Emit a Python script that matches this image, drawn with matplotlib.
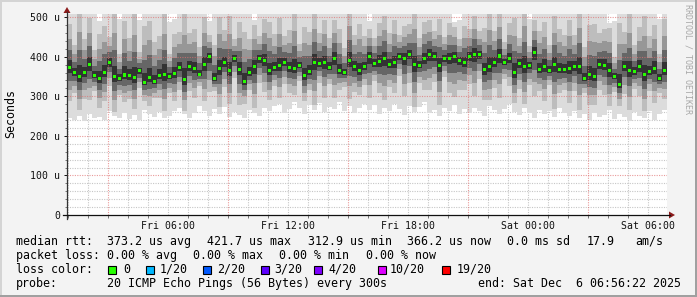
import numpy as np
import matplotlib
matplotlib.use("Agg")
from matplotlib import pyplot as plt
from matplotlib.patches import Rectangle, Polygon

# smokeping rtt, 15 minute buckets from Fri 00:56:22 to Sat 06:56:22 (values in us)
median_rtt = [372, 360, 350, 360, 380, 352, 345, 360, 385, 350, 345, 354, 352, 348, 365, 335, 348, 338, 352, 355,
              350, 358, 372, 343, 375, 370, 356, 380, 400, 345, 370, 385, 365, 395, 368, 338, 360, 375, 395, 390,
              365, 372, 378, 385, 372, 370, 378, 352, 362, 385, 383, 385, 373, 395, 365, 360, 390, 375, 365, 375,
              400, 382, 388, 395, 380, 385, 400, 395, 405, 380, 378, 395, 405, 400, 378, 395, 395, 400, 390, 385,
              400, 405, 405, 368, 375, 385, 402, 385, 395, 360, 382, 375, 378, 410, 368, 375, 365, 380, 368, 368,
              370, 375, 375, 345, 355, 350, 380, 378, 365, 350, 330, 375, 365, 362, 375, 355, 362, 370, 345, 366]

ping_low = [245, 240, 250, 238, 255, 244, 248, 240, 262, 250, 245, 258, 242, 252, 240, 265, 255, 248, 260, 246,
            250, 262, 270, 255, 245, 258, 275, 262, 250, 268, 255, 272, 248, 260, 252, 244, 266, 258, 250, 270,
            262, 275, 280, 258, 268, 285, 270, 255, 278, 265, 282, 260, 272, 268, 285, 262, 275, 258, 270, 280,
            265, 278, 255, 270, 262, 280, 268, 252, 275, 260, 272, 285, 258, 266, 250, 270, 262, 278, 255, 268,
            258, 270, 262, 250, 275, 265, 255, 268, 280, 260, 252, 270, 258, 245, 265, 255, 262, 248, 270, 258,
            250, 262, 245, 255, 240, 258, 248, 252, 265, 242, 255, 248, 238, 260, 250, 245, 262, 240, 255, 265]

ping_high = [540, 525, 550, 515, 545, 530, 490, 555, 520, 535, 495, 545, 528, 540, 492, 550, 530, 545, 520, 538,
             488, 495, 540, 530, 552, 520, 545, 535, 490, 548, 525, 540, 555, 532, 520, 545, 538, 492, 530, 550,
             535, 548, 520, 545, 530, 555, 525, 540, 550, 528, 545, 535, 552, 520, 540, 530, 548, 525, 545, 535,
             490, 540, 550, 525, 545, 535, 555, 520, 548, 530, 542, 525, 550, 538, 528, 545, 530, 488, 492, 540,
             545, 530, 550, 525, 540, 535, 552, 528, 545, 538, 520, 548, 495, 535, 550, 530, 545, 525, 540, 550,
             540, 525, 550, 535, 545, 520, 548, 530, 485, 490, 545, 535, 550, 525, 540, 530, 548, 538, 495, 545]

# how far the darker smoke reaches out in each bucket (relative)
ping_spread = [1.1, 0.7, 1.4, 0.9, 1.2, 0.6, 1.3, 1.0, 0.8, 1.5, 0.7, 1.2, 0.9, 1.4, 0.6, 1.1, 1.3, 0.8, 1.0, 1.4,
               0.7, 1.2, 0.9, 1.5, 0.8, 1.1, 0.6, 1.3, 1.0, 0.7, 1.4, 0.9, 1.2, 0.6, 1.3, 1.0, 0.8, 1.5, 0.7, 1.1,
               1.2, 0.8, 1.4, 0.7, 1.0, 1.3, 0.6, 1.1, 0.9, 1.5, 0.8, 1.2, 0.7, 1.3, 1.0, 0.6, 1.4, 0.9, 1.1, 0.8,
               1.3, 0.7, 1.0, 1.4, 0.8, 1.2, 0.6, 1.1, 0.9, 1.5, 0.7, 1.2, 1.0, 0.8, 1.3, 0.6, 1.1, 1.4, 0.9, 1.0,
               0.8, 1.3, 0.7, 1.1, 1.4, 0.9, 1.2, 0.6, 1.0, 1.3, 0.8, 1.5, 0.7, 1.1, 0.9, 1.2, 0.6, 1.4, 1.0, 0.8,
               1.2, 0.9, 1.4, 0.7, 1.1, 1.3, 0.8, 1.0, 1.5, 0.6, 1.2, 0.9, 1.3, 0.7, 1.0, 1.4, 0.8, 1.1, 0.7, 1.2]

tick_hours = [6, 12, 18, 24, 30]
tick_labels = ['Fri 06:00', 'Fri 12:00', 'Fri 18:00', 'Sat 00:00', 'Sat 06:00']
y_ticks = [0, 100, 200, 300, 400, 500]
y_labels = ['0', '100 u', '200 u', '300 u', '400 u', '500 u']

loss_labels = ['0', '1/20', '2/20', '3/20', '4/20', '10/20', '19/20']
loss_colors = ['#26ff00', '#00b8ff', '#0059ff', '#5e00ff', '#7e00ff', '#dd00ff', '#ff0000']

start_hour = 56 / 60 + 22 / 3600
step = 0.25
mono = 'DejaVu Sans Mono'

med = np.array(median_rtt, float)
low = np.array(ping_low, float)
high = np.array(ping_high, float)
spread = np.array(ping_spread, float)
t = start_hour + (np.arange(len(med)) + 0.5) * step

fig = plt.figure(figsize=(6.97, 2.97), dpi=100, facecolor='#f3f3f3')
ax = fig.add_axes([67 / 697, 82 / 297, 600 / 697, 201 / 297])
ax.set_facecolor('white')
ax.set_xlim(start_hour, start_hour + 30)
ax.set_ylim(0, 508)
for s in ax.spines.values():
    s.set_visible(False)

# grid
for h in range(1, 31):
    if h % 6 != 3:
        ax.axvline(h, color='#c6c6c6', lw=0.8, ls=(0, (1, 1.2)), zorder=1)
for v in range(20, 501, 20):
    if v % 100:
        ax.axhline(v, color='#c6c6c6', lw=0.8, ls=(0, (1, 1.2)), zorder=1)

# smoke, light outside to dark inside
bands = [(1.0, '#dcdcdc'), (0.6, '#bdbdbd'), (0.4, '#979797'), (0.24, '#666666'), (0.1, '#333333')]
for f, c in bands:
    g = np.minimum(f * spread, 1.0) if f < 1 else f
    lo = med - g * (med - low)
    hi = med + g * (high - med)
    ax.bar(t, hi - lo, bottom=lo, width=step, color=c, linewidth=0, zorder=2)

# median with loss colour
ax.bar(t, 8, bottom=med - 4, width=0.15, color=loss_colors[0], linewidth=0, zorder=4)

for h in range(3, 31, 6):
    ax.axvline(h, color='#e07070', lw=0.8, ls=(0, (1, 1.2)), alpha=0.7, zorder=3)
for v in range(100, 501, 100):
    ax.axhline(v, color='#e07070', lw=0.8, ls=(0, (1, 1.2)), alpha=0.7, zorder=3)

ax.set_xticks(tick_hours)
ax.set_xticklabels(tick_labels, fontfamily=mono, fontsize=7.1)
ax.set_xticks(np.arange(1, 31), minor=True)
ax.set_yticks(y_ticks)
ax.set_yticklabels(y_labels, fontfamily=mono, fontsize=7.1)
ax.set_yticks(np.arange(0, 501, 20), minor=True)
ax.tick_params(axis='x', which='major', length=0, pad=4.5, colors='#111111')
ax.tick_params(axis='x', which='minor', length=2, width=0.7, direction='out', color='#777777')
ax.tick_params(axis='y', which='major', length=2.5, width=0.7, direction='out', pad=2.5, colors='#111111')
ax.tick_params(axis='y', which='minor', length=1.5, width=0.7, direction='out', color='#777777')

# overlay in pixel coordinates
ov = fig.add_axes([0, 0, 1, 1], zorder=5)
ov.set_xlim(0, 697)
ov.set_ylim(297, 0)
ov.axis('off')

ov.plot([67, 67], [219, 12], color='#333333', lw=0.9)
ov.plot([63, 670], [215, 215], color='#111111', lw=0.9)
ov.add_patch(Polygon([[67, 7], [63.5, 13], [70.5, 13]], closed=True, color='#8b1a1a', lw=0))
ov.add_patch(Polygon([[675, 215], [669, 211.5], [669, 218.5]], closed=True, color='#8b1a1a', lw=0))

ov.text(11, 114, 'Seconds', rotation=90, ha='center', va='center', fontfamily=mono, fontsize=8.4)
ov.text(688, 4, 'RRDTOOL / TOBI OETIKER', rotation=270, ha='center', va='top',
        fontfamily=mono, fontsize=6, color='#a8a8a8')

leg = [
    (245, [(16, 'median rtt:'), (107.3, '373.2 us avg'), (207.3, '421.7 us max'), (308.3, '312.9 us min'),
           (406.7, '366.2 us now'), (506.7, '0.0 ms sd'), (586.7, '17.9'), (635, 'am/s')]),
    (259, [(16, 'packet loss:'), (107.3, '0.00 % avg'), (193.3, '0.00 % max'), (279.3, '0.00 % min'),
           (365.7, '0.00 % now')]),
    (273, [(16, 'loss color:')]),
    (287, [(16, 'probe:'), (107.3, '20 ICMP Echo Pings (56 Bytes) every 300s'),
           (478.3, 'end: Sat Dec  6 06:56:22 2025')]),
]
for yb, items in leg:
    for x, s in items:
        ov.text(x, yb, s, ha='left', va='baseline', fontfamily=mono, fontsize=8.4, color='#000000')

sq_x = [108, 146, 203, 261, 314.3, 377.7, 442.3]
txt_x = [123.3, 160, 216.7, 274.3, 328.3, 390, 456.7]
for sx, tx, lab, col in zip(sq_x, txt_x, loss_labels, loss_colors):
    ov.add_patch(Rectangle((sx, 265.5), 8, 8, facecolor=col, edgecolor='black', lw=0.8))
    ov.text(tx, 273, lab, ha='left', va='baseline', fontfamily=mono, fontsize=8.4)

# rrdtool frame shading
ov.add_patch(Rectangle((0, 0), 697, 2, color='#d4d4d4', lw=0))
ov.add_patch(Rectangle((0, 0), 2, 297, color='#d4d4d4', lw=0))
ov.add_patch(Rectangle((0, 294.5), 697, 3, color='#a0a0a0', lw=0))
ov.add_patch(Rectangle((694.5, 0), 3, 297, color='#a0a0a0', lw=0))

fig.savefig('out.png', dpi=100, facecolor=fig.get_facecolor())
